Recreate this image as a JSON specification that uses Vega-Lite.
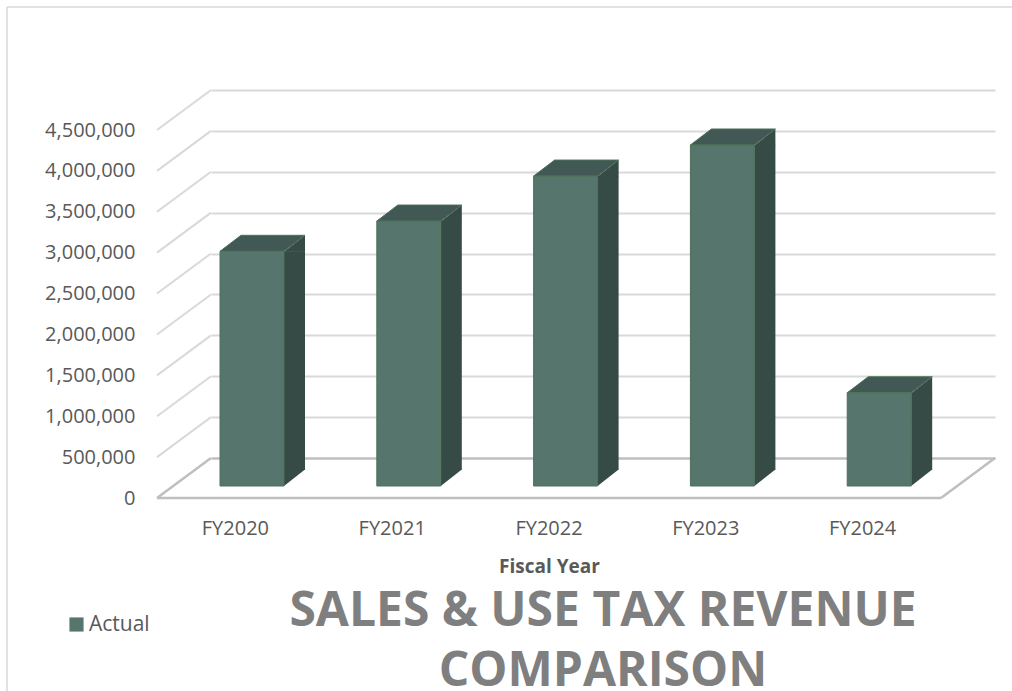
{
  "$schema": "https://vega.github.io/schema/vega-lite/v6.json",
  "width": 784,
  "height": 368,
  "autosize": {"type": "none"},
  "padding": {"left": 211, "top": 90, "right": 17, "bottom": 233},
  "background": "white",
  "config": {
    "view": {"stroke": null},
    "font": "Open Sans",
    "axis": {"labelFont": "Open Sans", "titleFont": "Open Sans"}
  },
  "title": {
    "text": ["SALES & USE TAX REVENUE", "COMPARISON"],
    "orient": "bottom",
    "anchor": "middle",
    "font": "Open Sans",
    "fontSize": 48,
    "fontWeight": "bold",
    "color": "#7F7F7F",
    "lineHeight": 60,
    "offset": -111
  },
  "datasets": {
    "revenue": [
      {"year": "FY2020", "value": 2870000, "series": "Actual"},
      {"year": "FY2021", "value": 3240000, "series": "Actual"},
      {"year": "FY2022", "value": 3790000, "series": "Actual"},
      {"year": "FY2023", "value": 4170000, "series": "Actual"},
      {"year": "FY2024", "value": 1140000, "series": "Actual"}
    ],
    "ticks": [
      {"value": 500000}, {"value": 1000000}, {"value": 1500000}, {"value": 2000000},
      {"value": 2500000}, {"value": 3000000}, {"value": 3500000}, {"value": 4000000}, {"value": 4500000}
    ]
  },
  "layer": [
    {
      "data": {"values": [{}]},
      "mark": {"type": "rule", "color": "#D9D9D9", "strokeWidth": 1.5, "xOffset": -204, "x2Offset": 17, "yOffset": -83, "y2Offset": -83},
      "encoding": {
        "x": {"datum": 0, "type": "quantitative", "scale": {"domain": [0, 1], "nice": false, "zero": false}, "axis": null},
        "x2": {"datum": 1},
        "y": {"datum": 4500000, "type": "quantitative"},
        "y2": {"datum": 4500000}
      }
    },
    {
      "data": {"values": [{}]},
      "mark": {"type": "rule", "color": "#D9D9D9", "strokeWidth": 1.5, "xOffset": -204, "x2Offset": -204, "yOffset": -83, "y2Offset": 240},
      "encoding": {
        "x": {"datum": 0, "type": "quantitative", "scale": {"domain": [0, 1], "nice": false, "zero": false}, "axis": null},
        "x2": {"datum": 0},
        "y": {"datum": 4500000, "type": "quantitative"},
        "y2": {"datum": 0}
      }
    },
    {
      "data": {"name": "ticks"},
      "mark": {"type": "rule", "color": "#D9D9D9", "strokeWidth": 2, "xOffset": -54, "yOffset": 40},
      "encoding": {
        "x": {"datum": 0, "type": "quantitative", "scale": {"domain": [0, 1], "nice": false, "zero": false}, "axis": null},
        "x2": {"datum": 0},
        "y": {"field": "value", "type": "quantitative"},
        "y2": {"field": "value"}
      }
    },
    {
      "data": {"values": [{}]},
      "mark": {"type": "rule", "color": "#BFBFBF", "strokeWidth": 2.5, "xOffset": -54, "yOffset": 40},
      "encoding": {
        "x": {"datum": 0, "type": "quantitative", "scale": {"domain": [0, 1], "nice": false, "zero": false}, "axis": null},
        "x2": {"datum": 0},
        "y": {"datum": 0, "type": "quantitative"},
        "y2": {"datum": 0}
      }
    },
    {
      "data": {"values": [{}]},
      "mark": {"type": "rule", "color": "#BFBFBF", "strokeWidth": 2.5, "xOffset": -54, "x2Offset": -54, "yOffset": 40, "y2Offset": 40},
      "encoding": {
        "x": {"datum": 0, "type": "quantitative", "scale": {"domain": [0, 1], "nice": false, "zero": false}, "axis": null},
        "x2": {"datum": 1},
        "y": {"datum": 0, "type": "quantitative"},
        "y2": {"datum": 0}
      }
    },
    {
      "data": {"values": [{}]},
      "mark": {"type": "rule", "color": "#BFBFBF", "strokeWidth": 2.5, "xOffset": -54, "yOffset": 40},
      "encoding": {
        "x": {"datum": 1, "type": "quantitative", "scale": {"domain": [0, 1], "nice": false, "zero": false}, "axis": null},
        "x2": {"datum": 1},
        "y": {"datum": 0, "type": "quantitative"},
        "y2": {"datum": 0}
      }
    },
    {
      "data": {"name": "revenue"},
      "encoding": {
        "x": {
          "field": "year",
          "type": "nominal",
          "scale": {"paddingInner": 0.592, "paddingOuter": 0.296},
          "axis": {
            "title": "Fiscal Year",
            "titleFontSize": 19,
            "titleFontWeight": "bold",
            "titleColor": "#595959",
            "titlePadding": 19,
            "titleX": 338,
            "labelFontSize": 20,
            "labelColor": "#595959",
            "labelAngle": 0,
            "labelOffset": -54,
            "labelPadding": 60,
            "domain": false,
            "ticks": false,
            "tickSize": 0
          }
        }
      },
      "layer": [
        {
          "mark": {"type": "bar", "color": "#364A46", "width": 21, "xOffset": 5.1, "yOffset": 28, "y2Offset": 12},
          "encoding": {
            "y": {"field": "value", "type": "quantitative"},
            "y2": {"datum": 0}
          }
        },
        {
          "mark": {"type": "point", "shape": "M-5.4,28.5 L15.6,12 L15.6,28.5 Z", "size": 4, "filled": true, "opacity": 1, "color": "#364A46", "strokeWidth": 0},
          "encoding": {
            "y": {"field": "value", "type": "quantitative"}
          }
        },
        {
          "mark": {"type": "point", "shape": "M-5.4,11.5 L15.6,11.5 L-5.4,28 Z", "size": 4, "filled": true, "opacity": 1, "color": "#364A46", "strokeWidth": 0},
          "encoding": {
            "y": {"datum": 0, "type": "quantitative"}
          }
        },
        {
          "mark": {"type": "point", "shape": "M-69.4,28 L-48.4,12 L15.6,12 L-5.4,28 Z", "size": 4, "filled": true, "opacity": 1, "fill": "#425854", "stroke": "#4E7158", "strokeWidth": 1},
          "encoding": {
            "y": {"field": "value", "type": "quantitative"}
          }
        },
        {
          "mark": {"type": "bar", "xOffset": -37.4, "yOffset": 28, "y2Offset": 28, "stroke": "#4E7158", "strokeWidth": 1},
          "encoding": {
            "y": {
              "field": "value",
              "type": "quantitative",
              "scale": {"domain": [0, 4500000], "nice": false, "zero": true},
              "axis": {
                "title": null,
                "values": [0, 500000, 1000000, 1500000, 2000000, 2500000, 3000000, 3500000, 4000000, 4500000],
                "format": ",d",
                "labelFontSize": 20,
                "labelColor": "#595959",
                "labelOffset": 40,
                "labelPadding": 76,
                "domain": false,
                "ticks": false,
                "tickSize": 0,
                "grid": true,
                "gridColor": {"condition": {"test": "datum.value === 0", "value": "#BFBFBF"}, "value": "#D9D9D9"},
                "gridWidth": {"condition": {"test": "datum.value === 0", "value": 2.5}, "value": 2}
              }
            },
            "y2": {"datum": 0},
            "color": {
              "field": "series",
              "type": "nominal",
              "scale": {"range": ["#56756C"]},
              "legend": {
                "title": null,
                "orient": "none",
                "legendX": -145,
                "legendY": 524,
                "padding": 0,
                "symbolType": "square",
                "symbolSize": 200,
                "symbolStrokeWidth": 0,
                "labelFontSize": 21,
                "labelColor": "#595959",
                "labelOffset": 2
              }
            }
          }
        }
      ]
    }
  ],
  "resolve": {"scale": {"x": "independent"}}
}
